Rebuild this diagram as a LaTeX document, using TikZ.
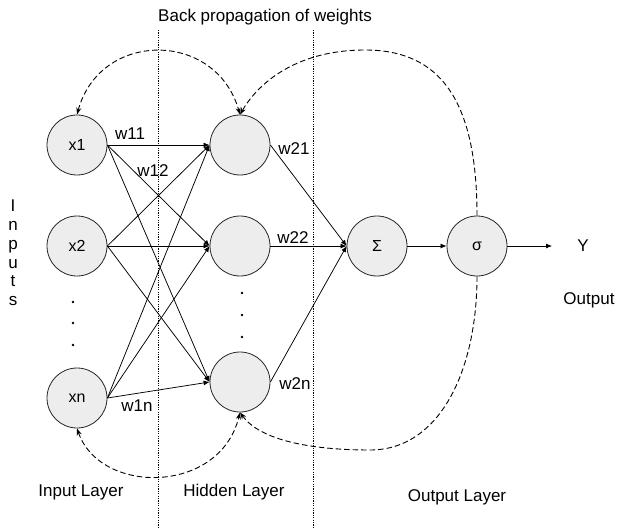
\documentclass[tikz,border=0pt]{standalone}
\usepackage{fontspec}
\setmainfont{Liberation Sans}
\usetikzlibrary{positioning,arrows.meta}
\tikzset{
  neuron/.style={circle, draw=black!85, fill=black!7, minimum size=60pt,
                 inner sep=0pt, line width=0.8pt, font=\fontsize{16}{18}\selectfont},
  lbl/.style={font=\fontsize{17}{19}\selectfont, inner sep=1pt},
  wire/.style={-{Latex[length=6pt,width=5pt]}, line width=0.75pt},
  backprop/.style={dash pattern=on 5.5pt off 3pt, line width=0.9pt},
  bptip/.tip={Stealth[length=7pt,width=5pt]},
  layerline/.style={dash pattern=on 1.2pt off 1.2pt, line width=0.8pt},
}
\begin{document}
\begin{tikzpicture}[x=1pt,y=-1pt]
\useasboundingbox (0,0) rectangle (617,529);
% layer separators
\draw[layerline] (158,30) -- (158,529);
\draw[layerline] (313,30) -- (313,529);
\node[lbl] (title) at (265,17) {Back propagation of weights};
% neurons
\node[neuron] (x1) at (77,145) {x1};
\node[neuron] (x2) at (77,246) {x2};
\node[neuron] (xn) at (77,398) {xn};
\node[neuron] (h1) at (240,145) {};
\node[neuron] (h2) at (240,246) {};
\node[neuron] (hn) at (240,382) {};
\node[neuron] (sum) at (377,246) {Σ};
\node[neuron] (sig) at (477,246) {σ};
\foreach \y in {302,323,345}{ \fill (73,\y) circle (1.3pt); }
\foreach \y in {293,315,337}{ \fill (242,\y) circle (1.3pt); }
% weights
\foreach \i in {x1,x2,xn}\foreach \j in {h1,h2,hn}{
  \draw[wire] (\i.east) -- (\j.west);
}
\foreach \j in {h1,h2,hn}{
  \draw[wire] (\j.east) -- (sum.west);
}
\draw[wire] (sum) -- (sig);
\node[lbl] (yout) at (583,246) {Y};
\coordinate (yend) at (552,246);
\draw[wire] (sig) -- (yend);
\node[lbl] at (130,134) {w11};
\node[lbl] at (153,171) {w12};
\node[lbl] at (137,406) {w1n};
\node[lbl] at (294,149) {w21};
\node[lbl] at (293,238) {w22};
\node[lbl] at (295,384) {w2n};
% back propagation
\draw[backprop, bptip-bptip] (x1.north) .. controls (100,30) and (216,30) .. (h1.north);
\draw[backprop, -bptip] (sig.north) .. controls (477,100) and (440,50) .. (365,50)
  .. controls (300,50) and (260,80) .. (h1.north);
\draw[backprop, -bptip] (sig.south) .. controls (477,370) and (440,450) .. (370,450)
  .. controls (310,450) and (260,440) .. (hn.south);
\draw[backprop, bptip-bptip] (xn.south) .. controls (100,495) and (220,495) .. (hn.south);
% captions
\node[lbl, align=center, font=\fontsize{17}{18.8}\selectfont] (inputs) at (13,253) {I\\n\\p\\u\\t\\s};
\node[lbl] (outcap) at (589,300) {Output};
\node[lbl] (incap) at (81,492) {Input Layer};
\node[lbl] (hidcap) at (234,492) {Hidden Layer};
\node[lbl] (outlayer) at (457,497) {Output Layer};
\end{tikzpicture}
\end{document}
